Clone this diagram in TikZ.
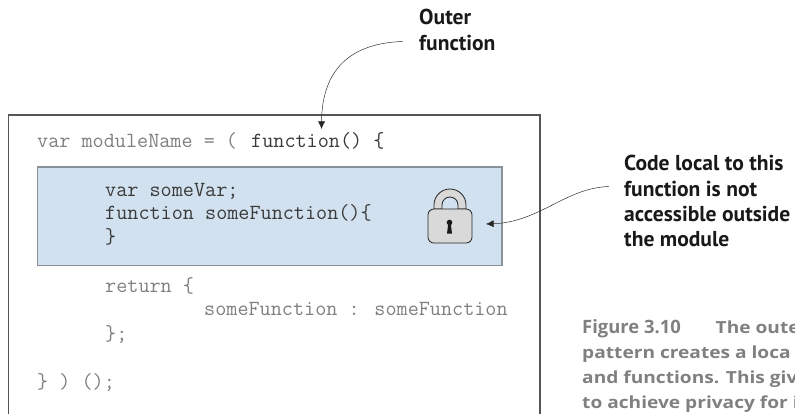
\documentclass[tikz,border=0pt]{standalone}
\usepackage{fontspec}
\setmainfont{PT Sans}
\newfontfamily\capfont[FakeStretch=1.15]{Open Sans}
\newfontfamily\capnum{Open Sans}
\usetikzlibrary{calc}
\usetikzlibrary{arrows.meta}

\definecolor{codegray}{HTML}{7F7F7F}
\definecolor{codedark}{HTML}{3A3A3A}
\definecolor{boxline}{HTML}{555555}
\definecolor{localblue}{HTML}{D2E1EF}
\definecolor{localline}{HTML}{8A9299}
\definecolor{lockgray}{HTML}{D9D9D9}
\definecolor{capgray}{HTML}{808080}

\tikzset{
    codeline/.style={anchor=base west,inner sep=0pt,font=\fontsize{18.4}{20}\ttfamily},
    calloutlabel/.style={anchor=base west,inner sep=0pt,font=\fontsize{18.4}{20}\bfseries,color=black!90},
    captionline/.style={anchor=base west,inner sep=0pt,font=\fontsize{14.2}{20}\capfont\bfseries,color=capgray},
    callout/.style={-{Latex[length=6.5pt,width=6pt]},thin,color=black!85}
}

\begin{document}
\begin{tikzpicture}[x=0.03cm,y=-0.03cm]
\useasboundingbox (0,0) rectangle (795,413);
\clip (0,0) rectangle (795,413);

\coordinate (o1) at (8.5,115);
\coordinate (o2) at (540,440);
\coordinate (b1) at (37.5,167);
\coordinate (b2) at (502,265.5);
\coordinate (l1) at (428,209);
\coordinate (l2) at (472,243);
\coordinate (funcTip) at (321.5,129);
\coordinate (lockTip) at (486,224);

\newcommand{\codeat}[4]{
    \node[codeline,color=#1] (#2) at (#3) {#4};
}

\newcommand{\drawboxes}{
    \draw[boxline,line width=0.9pt] (o1) rectangle (o2);
    \draw[localline,fill=localblue,line width=0.9pt] (b1) rectangle (b2);
}

\newcommand{\drawlock}{
    \draw[black!85,fill=lockgray,line width=0.7pt] (434,209) -- (434,205) arc[start angle=180,end angle=0,radius=0.48cm] -- (466,209) -- (458,209) -- (458,205) arc[start angle=0,end angle=180,radius=0.24cm] -- (442,209) -- cycle;
    \draw[black!85,fill=lockgray,line width=0.7pt,rounded corners=5pt] (l1) rectangle (l2);
    \fill[black!90] (449.5,222.5) circle[radius=0.085cm];
    \fill[black!90] (448.3,223) -- (450.7,223) -- (452,233.5) -- (447,233.5) -- cycle;
}

\drawboxes
\drawlock

% the code
\node[codeline,color=codegray] (varmod) at (37,147) {var moduleName = (};
\node[codeline,color=codedark] (funchead) at (251,147) {function() \{};
\codeat{codedark}{somevar}{105,196}{var someVar;}
\codeat{codedark}{somefunc}{105,219}{function someFunction()\{}
\codeat{codedark}{closefunc}{105,243}{\}}
\codeat{codegray}{ret}{105,292}{return \{}
\codeat{codegray}{retline}{204,315}{someFunction : someFunction}
\codeat{codegray}{retclose}{105,340}{\};}
\codeat{codegray}{lastline}{37,388}{\} ) ();}

% the labels
\node[calloutlabel] (outerA) at (419,24) {Outer};
\node[calloutlabel] (outerB) at (419,50) {function};
\node[calloutlabel] (localA) at (624,170) {Code local to this};
\node[calloutlabel] (localB) at (624,196) {function is not};
\node[calloutlabel] (localC) at (624,221) {accessible outside};
\node[calloutlabel] (localD) at (624,246) {the module};

\node[captionline] (capA) at (582,333) {{\fontsize{15.7}{20}\capnum\bfseries Figure 3.10}\hspace{2.1em}The oute};
\node[captionline] (capB) at (582,358) {pattern creates a loca};
\node[captionline] (capC) at (582,383) {and functions. This giv};
\node[captionline] (capD) at (582,408) {to achieve privacy for i};

\coordinate (outerEnd) at ($(outerB.west)+(-16,-1)$);
\coordinate (localEnd) at ($(localB.west)+(-15,-2)$);
\draw[callout] (outerEnd) .. controls (352,43) and (322,68) .. (funcTip);
\draw[callout] (localEnd) .. controls (565,188) and (540,222) .. (lockTip);
\end{tikzpicture}
\end{document}
